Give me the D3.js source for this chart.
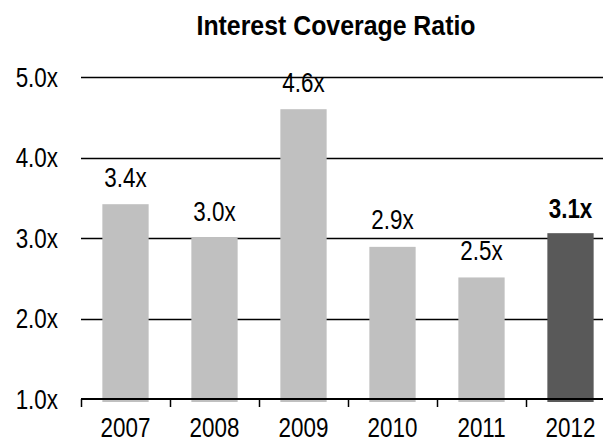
<!DOCTYPE html>
<html>
<head>
<meta charset="utf-8">
<script src="https://cdn.jsdelivr.net/npm/d3@7"></script>
<style>
  html, body { margin: 0; padding: 0; background: #fff; }
  svg { display: block; font-family: "Liberation Sans", Arial, sans-serif; }
</style>
</head>
<body>
<svg id="chart" width="603" height="442"></svg>
<script>
// Interest coverage ratio by fiscal year
const years = ["2007", "2008", "2009", "2010", "2011", "2012"];
const ratios = [3.42, 3.0, 4.6, 2.89, 2.51, 3.06];
const highlightYear = "2012";
const yTicks = [1, 2, 3, 4, 5];

const svg = d3.select("#chart");
const W = 603;
// Horizontal squeeze that gives the condensed look of the labels
const NARROW = 0.83;

const x = d3.scaleBand()
  .domain(years)
  .range([81, 615])
  .paddingInner(0.48)
  .paddingOuter(0.24);

const y = d3.scaleLinear().domain([1, 5]).range([399, 77]);
const fmt = v => v.toFixed(1) + "x";

// Places condensed text at (px, py)
function condensed(sel, px, py, sx) {
  return sel
    .attr("transform", (d, i) => `translate(${px(d, i)},${py(d, i)}) scale(${sx},1)`)
    .attr("x", 0)
    .attr("y", 0);
}

// Title
svg.append("text")
  .attr("transform", `translate(336,35) scale(0.888,1)`)
  .attr("text-anchor", "middle")
  .style("font-size", "28px")
  .style("font-weight", "bold")
  .text("Interest Coverage Ratio");

// Horizontal gridlines
svg.append("g")
  .selectAll("line")
  .data(yTicks.filter(t => t > 1))
  .join("line")
  .attr("x1", 81)
  .attr("x2", W)
  .attr("y1", d => Math.round(y(d)) + 0.5)
  .attr("y2", d => Math.round(y(d)) + 0.5)
  .attr("stroke", "#000")
  .attr("stroke-width", 1.3);

// Y-axis labels
svg.append("g")
  .selectAll("text")
  .data(yTicks)
  .join("text")
  .call(condensed, () => 58, d => y(d), NARROW)
  .attr("dy", "0.36em")
  .attr("text-anchor", "end")
  .style("font-size", "27px")
  .text(d => d.toFixed(1) + "x");

const rows = years.map((yr, i) => ({ yr, v: ratios[i] }));

// Bars
svg.append("g")
  .selectAll("rect")
  .data(rows)
  .join("rect")
  .attr("x", d => x(d.yr))
  .attr("width", x.bandwidth())
  .attr("y", d => y(d.v))
  .attr("height", d => y(1) - y(d.v) + 3)
  .attr("fill", d => d.yr === highlightYear ? "#595959" : "#c0c0c0");

// Value labels
svg.append("g")
  .selectAll("text")
  .data(rows)
  .join("text")
  .call(condensed,
        d => x(d.yr) + x.bandwidth() / 2,
        d => y(d.v) - (d.yr === highlightYear ? 15 : 17.5),
        NARROW)
  .attr("text-anchor", "middle")
  .style("font-size", "27px")
  .style("font-weight", d => d.yr === highlightYear ? "bold" : "normal")
  .text(d => fmt(d.v));

// X axis baseline with boundary ticks
const step = x.step();
const x0 = x.range()[0];
svg.append("line")
  .attr("x1", x0)
  .attr("x2", W)
  .attr("y1", y(1))
  .attr("y2", y(1))
  .attr("stroke", "#000")
  .attr("stroke-width", 2.2);

svg.append("g")
  .selectAll("line")
  .data(d3.range(years.length + 1))
  .join("line")
  .attr("x1", i => Math.round(x0 + i * step) + 0.5)
  .attr("x2", i => Math.round(x0 + i * step) + 0.5)
  .attr("y1", y(1))
  .attr("y2", y(1) + 8)
  .attr("stroke", "#000")
  .attr("stroke-width", 1.5);

// Year labels
svg.append("g")
  .selectAll("text")
  .data(years)
  .join("text")
  .call(condensed, d => x(d) + x.bandwidth() / 2, () => 437, 0.83)
  .attr("text-anchor", "middle")
  .style("font-size", "27px")
  .text(d => d);
</script>
</body>
</html>
